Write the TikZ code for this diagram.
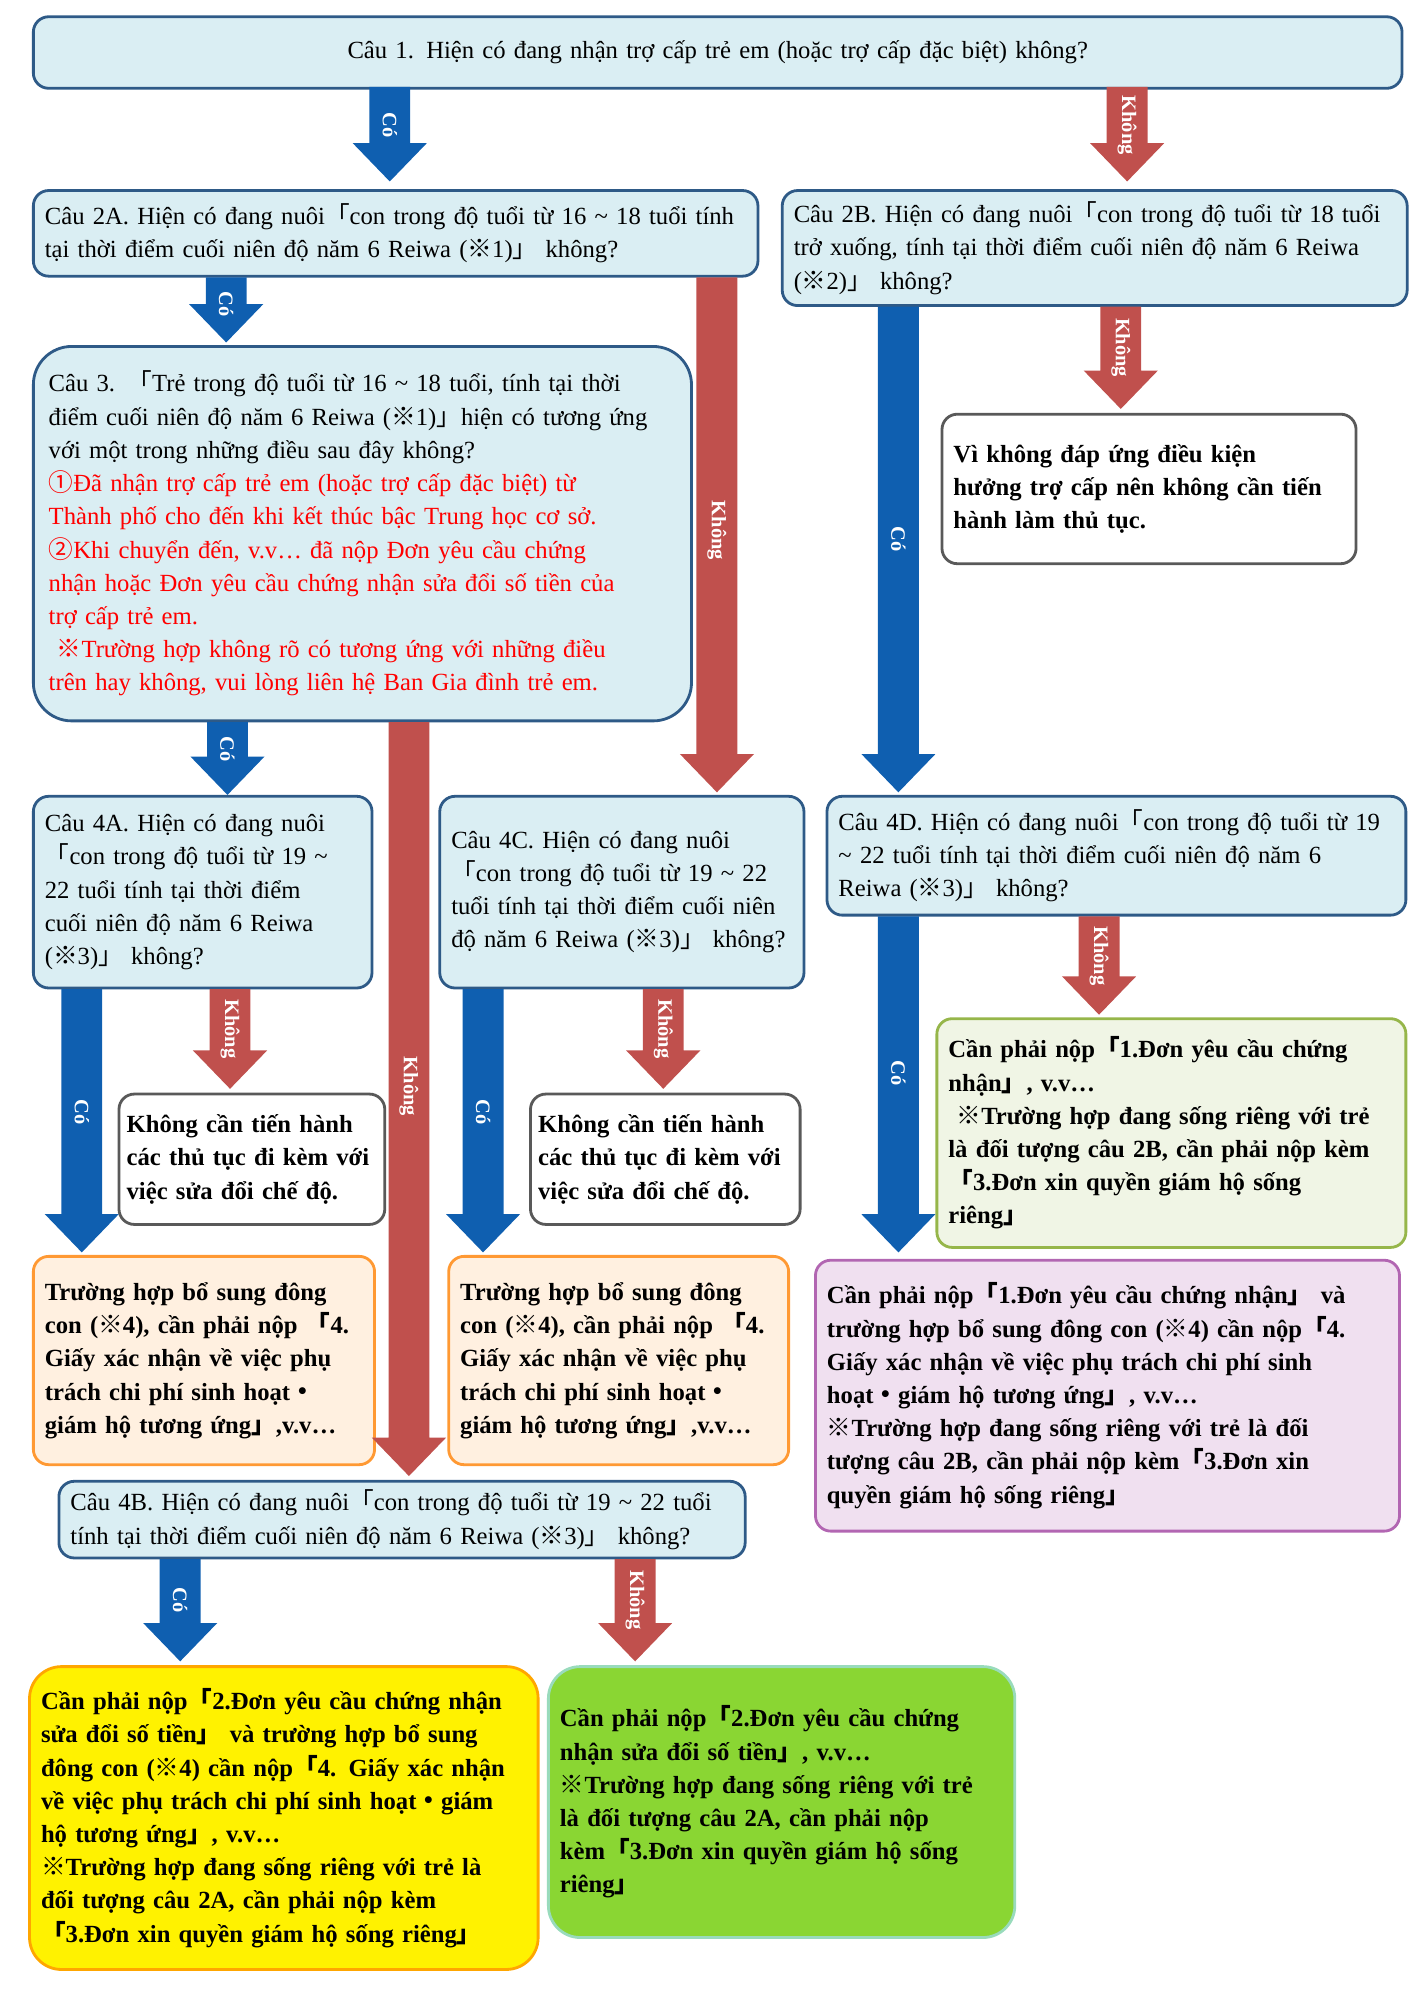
\documentclass[tikz,border=0pt]{standalone}
\usepackage{fontspec}
\setmainfont{Liberation Serif}
\newfontfamily\cjk{Noto Sans CJK JP}
\newcommand\kL{{\cjk 「}}
\newcommand\kR{{\cjk 」}}
\newcommand\kx{{\cjk ※}}
\newcommand\kd{{\cjk ・}}
\newcommand\tld{{\char"7E}}
\definecolor{qfill}{HTML}{DAEEF3}
\definecolor{qdraw}{HTML}{2E5A87}
\definecolor{ablue}{HTML}{0F5FB0}
\definecolor{ared}{HTML}{C0504D}
\newcommand\barrow[6]{%
 \fill[#4] ({#1-16},{#2}) -- ({#1+16},{#2}) -- ({#1+16},{#3-30}) -- ({#1+29},{#3-30}) -- ({#1},{#3}) -- ({#1-29},{#3-30}) -- ({#1-16},{#3-30}) -- cycle;
 \node[rotate=-90,text=white,font=\fontsize{16}{18}\selectfont\bfseries] at ({#1},{#6}) {#5};}
\begin{document}
\begin{tikzpicture}[x=1pt,y=-1pt,
 base/.style={rounded corners=12pt,line width=2.2pt,anchor=north west,inner xsep=9pt,inner ysep=3pt,align=left,font=\fontsize{19.3}{26}\selectfont},
 qb/.style={base,draw=qdraw,fill=qfill},
 wb/.style={base,draw=black!65,fill=white,font=\fontsize{19.3}{26}\selectfont\bfseries},
 ob/.style={base,draw=orange!80,fill=orange!12,font=\fontsize{19.3}{26}\selectfont\bfseries},
]
\useasboundingbox (0,0) rectangle (1106,1565);
\node[qb,minimum width=1071,minimum height=56,text width=1051,align=center] (q1) at (25,12) {Câu 1. Hiện có đang nhận trợ cấp trẻ em (hoặc trợ cấp đặc biệt) không?};
\node[qb,minimum width=567,minimum height=67,text width=549] (q2a) at (25,148) {Câu 2A. Hiện có đang nuôi\kL con trong độ tuổi từ 16 \tld{} 18 tuổi tính\\tại thời điểm cuối niên độ năm 6 Reiwa (\kx1)\kR{} không?};
\node[qb,minimum width=489,minimum height=90,text width=471] (q2b) at (611,148) {Câu 2B. Hiện có đang nuôi\kL con trong độ tuổi từ 18 tuổi\\trở xuống, tính tại thời điểm cuối niên độ năm 6 Reiwa\\(\kx2)\kR{} không?};
\node[qb,rounded corners=30pt,minimum width=515,minimum height=293,text width=491,inner xsep=12pt] (q3) at (25,270) {Câu 3. \kL Trẻ trong độ tuổi từ 16 \tld{} 18 tuổi, tính tại thời\\điểm cuối niên độ năm 6 Reiwa (\kx1)\kR hiện có tương ứng\\với một trong những điều sau đây không?\\\color{red}{\cjk ①}Đã nhận trợ cấp trẻ em (hoặc trợ cấp đặc biệt) từ\\Thành phố cho đến khi kết thúc bậc Trung học cơ sở.\\{\cjk ②}Khi chuyển đến, v.v… đã nộp Đơn yêu cầu chứng\\nhận hoặc Đơn yêu cầu chứng nhận sửa đổi số tiền của\\trợ cấp trẻ em.\\\ \kx Trường hợp không rõ có tương ứng với những điều\\trên hay không, vui lòng liên hệ Ban Gia đình trẻ em.};
\node[wb,minimum width=324,minimum height=117,text width=306] (nv) at (736,323) {Vì không đáp ứng điều kiện\\hưởng trợ cấp nên không cần tiến\\hành làm thủ tục.};
\node[qb,minimum width=265,minimum height=150,text width=247] (q4a) at (25,622) {Câu 4A. Hiện có đang nuôi\\\kL con trong độ tuổi từ 19 \tld\\22 tuổi tính tại thời điểm\\cuối niên độ năm 6 Reiwa\\(\kx3)\kR{} không?};
\node[qb,minimum width=285,minimum height=150,text width=267] (q4c) at (343,622) {Câu 4C. Hiện có đang nuôi\\\kL con trong độ tuổi từ 19 \tld{} 22\\tuổi tính tại thời điểm cuối niên\\độ năm 6 Reiwa (\kx3)\kR{} không?};
\node[qb,minimum width=453,minimum height=93,text width=435] (q4d) at (646,622) {Câu 4D. Hiện có đang nuôi\kL con trong độ tuổi từ 19\\\tld{} 22 tuổi tính tại thời điểm cuối niên độ năm 6\\Reiwa (\kx3)\kR{} không?};
\node[wb,minimum width=208,minimum height=102,text width=196,inner xsep=6pt] (na) at (92,855) {Không cần tiến hành\\các thủ tục đi kèm với\\việc sửa đổi chế độ.};
\node[wb,minimum width=211,minimum height=102,text width=199,inner xsep=6pt] (nc) at (414,855) {Không cần tiến hành\\các thủ tục đi kèm với\\việc sửa đổi chế độ.};
\node[base,draw=olive!60!green!70,fill=green!20!olive!10,font=\fontsize{19.3}{26}\selectfont\bfseries,minimum width=367,minimum height=179,text width=349] (gd) at (732,796) {Cần phải nộp\kL 1.Đơn yêu cầu chứng\\nhận\kR, v.v…\\\ \kx Trường hợp đang sống riêng với trẻ\\là đối tượng câu 2B, cần phải nộp kèm\\\kL 3.Đơn xin quyền giám hộ sống\\riêng\kR};
\node[ob,minimum width=267,minimum height=163,text width=249] (oa) at (25,982) {Trường hợp bổ sung đông\\con (\kx4), cần phải nộp \kL 4.\\Giấy xác nhận về việc phụ\\trách chi phí sinh hoạt\kd\\giám hộ tương ứng\kR,v.v…};
\node[ob,minimum width=266,minimum height=163,text width=248] (oc) at (350,982) {Trường hợp bổ sung đông\\con (\kx4), cần phải nộp \kL 4.\\Giấy xác nhận về việc phụ\\trách chi phí sinh hoạt\kd\\giám hộ tương ứng\kR,v.v…};
\node[base,draw=violet!60,fill=violet!12,font=\fontsize{19.3}{26}\selectfont\bfseries,minimum width=457,minimum height=212,text width=439] (pd) at (637,985) {Cần phải nộp\kL 1.Đơn yêu cầu chứng nhận\kR{} và\\trường hợp bổ sung đông con (\kx4) cần nộp\kL 4.\\Giấy xác nhận về việc phụ trách chi phí sinh\\hoạt\kd giám hộ tương ứng\kR, v.v…\\\kx Trường hợp đang sống riêng với trẻ là đối\\tượng câu 2B, cần phải nộp kèm\kL 3.Đơn xin\\quyền giám hộ sống riêng\kR};
\node[qb,minimum width=537,minimum height=60,text width=519,inner ysep=2pt] (q4b) at (45,1158) {Câu 4B. Hiện có đang nuôi\kL con trong độ tuổi từ 19 \tld{} 22 tuổi\\tính tại thời điểm cuối niên độ năm 6 Reiwa (\kx3)\kR{} không?};
\node[base,draw=orange!70!yellow,fill=yellow,font=\fontsize{19.3}{26}\selectfont\bfseries,rounded corners=25pt,minimum width=398,minimum height=237,text width=380] (yb) at (22,1303) {Cần phải nộp\kL 2.Đơn yêu cầu chứng nhận\\sửa đổi số tiền\kR{} và trường hợp bổ sung\\đông con (\kx4) cần nộp\kL 4. Giấy xác nhận\\về việc phụ trách chi phí sinh hoạt\kd giám\\hộ tương ứng\kR, v.v…\\\kx Trường hợp đang sống riêng với trẻ là\\đối tượng câu 2A, cần phải nộp kèm\\\kL 3.Đơn xin quyền giám hộ sống riêng\kR};
\node[base,draw=cyan!30!green!40,fill=green!50!lime!60!olive!80,font=\fontsize{19.3}{26}\selectfont\bfseries,rounded corners=25pt,minimum width=365,minimum height=212,text width=347] (gb) at (428,1303) {Cần phải nộp\kL 2.Đơn yêu cầu chứng\\nhận sửa đổi số tiền\kR, v.v…\\\kx Trường hợp đang sống riêng với trẻ\\là đối tượng câu 2A, cần phải nộp\\kèm\kL 3.Đơn xin quyền giám hộ sống\\riêng\kR};
% arrows
\barrow{305}{68}{142}{ablue}{Có}{98}
\barrow{882}{68}{142}{ared}{Không}{98}
\barrow{177}{217}{268}{ablue}{Có}{238}
\barrow{561}{217}{620}{ared}{Không}{415}
\barrow{320}{565}{1155}{ared}{Không}{850}
\barrow{178}{565}{622}{ablue}{Có}{586}
\barrow{703}{240}{620}{ablue}{Có}{422}
\barrow{877}{240}{320}{ared}{Không}{272}
\barrow{64}{774}{980}{ablue}{Có}{870}
\barrow{180}{774}{852}{ared}{Không}{805}
\barrow{378}{774}{980}{ablue}{Có}{870}
\barrow{519}{774}{852}{ared}{Không}{805}
\barrow{703}{717}{980}{ablue}{Có}{840}
\barrow{860}{717}{794}{ared}{Không}{748}
\barrow{141}{1220}{1300}{ablue}{Có}{1252}
\barrow{497}{1220}{1300}{ared}{Không}{1252}
\end{tikzpicture}
\end{document}
